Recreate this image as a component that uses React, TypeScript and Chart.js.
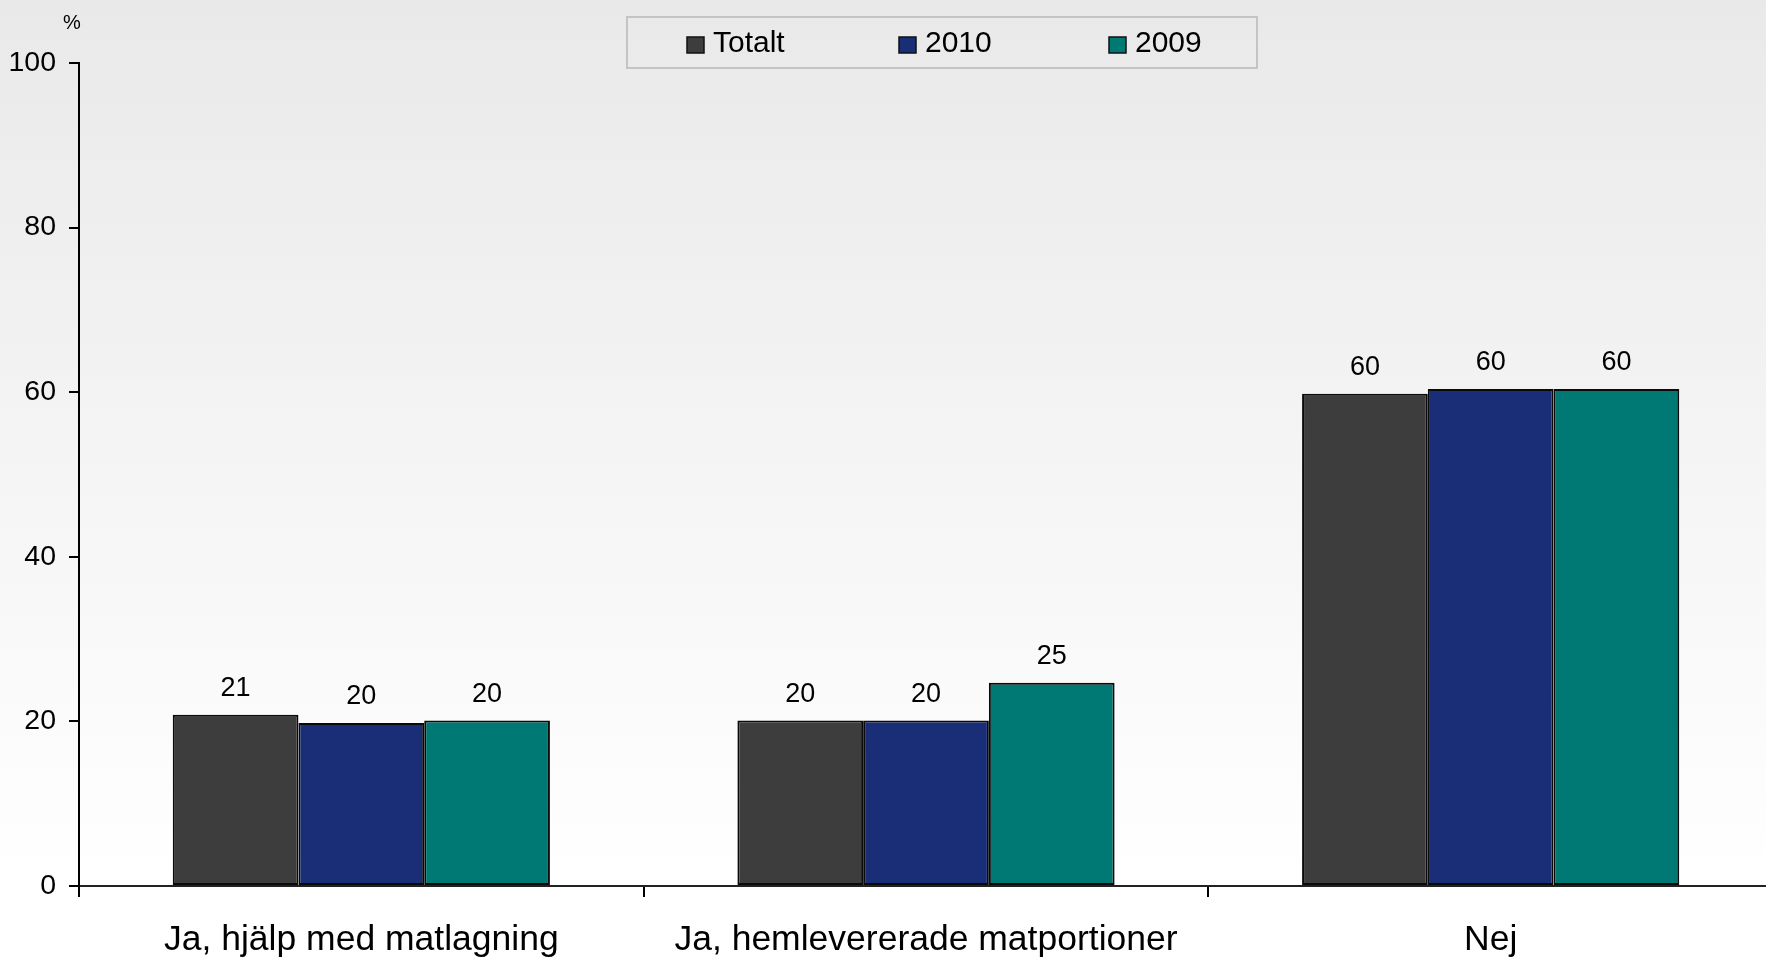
import React, { useEffect, useRef } from "react";
import { Chart, registerables } from "chart.js";

Chart.register(...registerables);

// ---- data ----
const categories = ["Ja, hjälp med matlagning", "Ja, hemlevererade matportioner", "Nej"];
const seriesNames = ["Totalt", "2010", "2009"];
const totaltValues = [20.8, 20.1, 59.8];
const values2010 = [19.8, 20.1, 60.4];
const values2009 = [20.1, 24.7, 60.4];
const seriesColors = ["#3d3d3d", "#1a2e78", "#007873"];
const yTicks = [0, 20, 40, 60, 80, 100];
const yUnit = "%";

const FONT = "'Liberation Sans', Arial, Helvetica, sans-serif";

const backgroundPlugin = {
  id: "bgGradient",
  beforeDraw(chart: any) {
    const { ctx, width, height } = chart;
    const g = ctx.createLinearGradient(0, 0, 0, height);
    g.addColorStop(0, "#e9e9e9");
    g.addColorStop(0.92, "#ffffff");
    g.addColorStop(1, "#ffffff");
    ctx.save();
    ctx.fillStyle = g;
    ctx.fillRect(0, 0, width, height);
    ctx.restore();
  },
};

const valueLabelPlugin = {
  id: "valueLabels",
  afterDatasetsDraw(chart: any) {
    const { ctx } = chart;
    ctx.save();
    ctx.font = `27px ${FONT}`;
    ctx.fillStyle = "#000";
    ctx.textAlign = "center";
    ctx.textBaseline = "middle";
    chart.data.datasets.forEach((ds: any, i: number) => {
      const meta = chart.getDatasetMeta(i);
      meta.data.forEach((bar: any, j: number) => {
        ctx.fillText(String(Math.round(ds.data[j])), bar.x, bar.y - 26);
      });
    });
    ctx.restore();
  },
};

const legendPlugin = {
  id: "boxLegend",
  afterDraw(chart: any) {
    const { ctx } = chart;
    ctx.save();
    // legend frame
    ctx.strokeStyle = "#c4c4c4";
    ctx.lineWidth = 2;
    ctx.strokeRect(627, 17, 630, 51);
    const swatchX = [687, 899, 1109];
    ctx.font = `30px ${FONT}`;
    ctx.textAlign = "left";
    ctx.textBaseline = "middle";
    chart.data.datasets.forEach((ds: any, i: number) => {
      const x = swatchX[i];
      ctx.fillStyle = ds.backgroundColor;
      ctx.fillRect(x, 37, 17, 16);
      ctx.strokeStyle = "#111";
      ctx.lineWidth = 1.5;
      ctx.strokeRect(x, 37, 17, 16);
      ctx.fillStyle = "#000";
      ctx.fillText(ds.label, x + 26, 44);
    });
    // unit label
    ctx.font = `20px ${FONT}`;
    ctx.textAlign = "center";
    ctx.fillText(yUnit, 72, 23);
    ctx.restore();
  },
};

export default function App() {
  const ref = useRef<HTMLCanvasElement | null>(null);

  useEffect(() => {
    if (!ref.current) return;
    const seriesValues = [totaltValues, values2010, values2009];
    const chart = new Chart(ref.current, {
      type: "bar",
      data: {
        labels: categories,
        datasets: seriesNames.map((name, i) => ({
          label: name,
          data: seriesValues[i],
          backgroundColor: seriesColors[i],
          borderColor: "#0a0a0a",
          borderWidth: 2,
          borderSkipped: false,
          categoryPercentage: 0.668,
          barPercentage: 1,
        })),
      },
      options: {
        animation: false,
        responsive: false,
        maintainAspectRatio: false,
        layout: { padding: { top: 63, right: 7, bottom: 0, left: 0 } },
        plugins: {
          legend: { display: false },
          tooltip: { enabled: false },
          title: { display: false },
        },
        scales: {
          x: {
            offset: true,
            grid: {
              offset: true,
              drawOnChartArea: false,
              drawTicks: true,
              tickLength: 11,
              color: "#000",
              lineWidth: 2,
            },
            border: { display: true, color: "#222", width: 2 },
            ticks: {
              color: "#000",
              font: { family: FONT, size: 35.5 },
              padding: 22,
              maxRotation: 0,
              autoSkip: false,
            },
            afterFit(scale: any) {
              scale.height = 72;
            },
          },
          y: {
            min: 0,
            max: 100,
            afterBuildTicks(scale: any) {
              scale.ticks = yTicks.map((v) => ({ value: v }));
            },
            grid: {
              drawOnChartArea: false,
              drawTicks: true,
              tickLength: 10,
              color: "#000",
              lineWidth: 2,
            },
            border: { display: true, color: "#000", width: 2 },
            ticks: {
              color: "#000",
              font: { family: FONT, size: 28.5 },
              padding: 13,
            },
            afterFit(scale: any) {
              scale.width = 79;
            },
          },
        },
      },
      plugins: [backgroundPlugin, valueLabelPlugin, legendPlugin],
    });
    return () => chart.destroy();
  }, []);

  return (
    <div
      style={{
        position: "absolute",
        left: 0,
        top: 0,
        width: 1766,
        height: 958,
        overflow: "hidden",
      }}
    >
      <canvas
        ref={ref}
        width={1780}
        height={958}
        style={{ width: 1780, height: 958, display: "block" }}
      />
    </div>
  );
}
